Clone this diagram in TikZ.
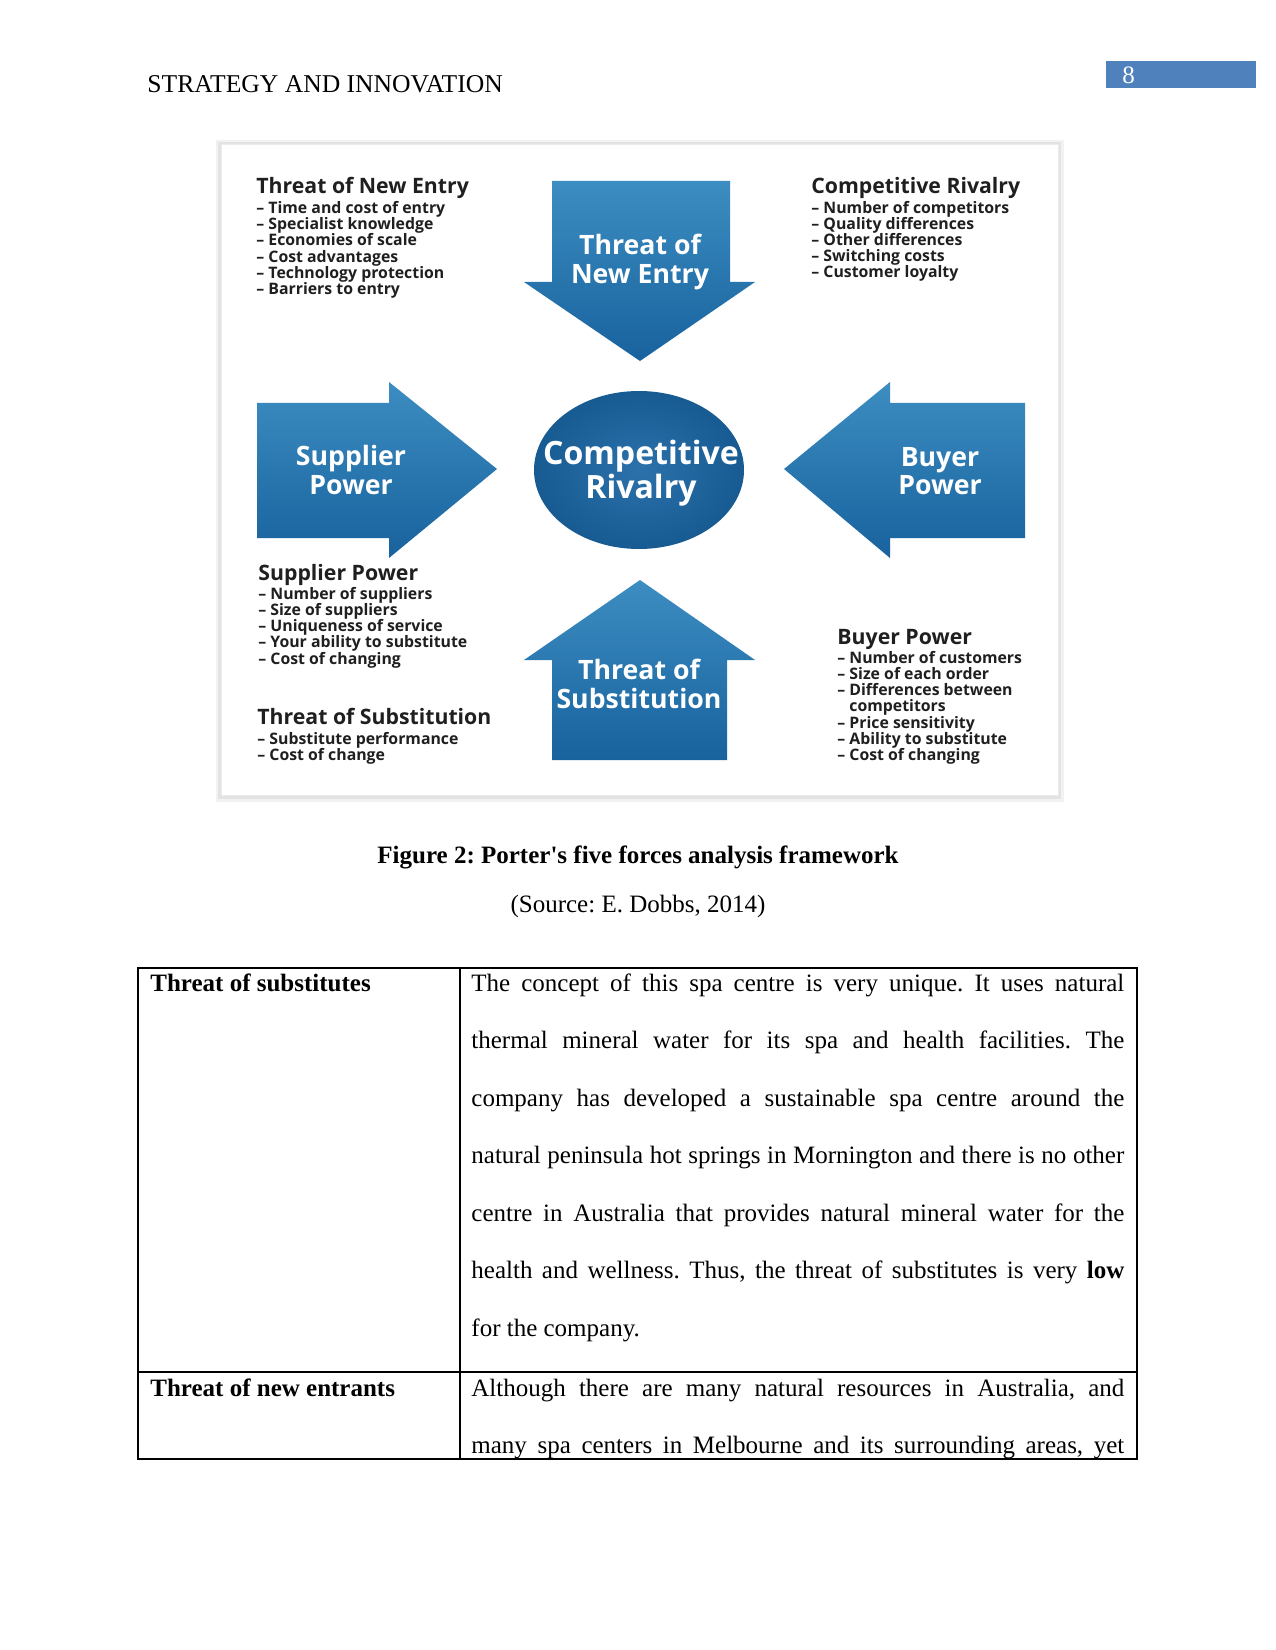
\documentclass[tikz,border=0pt]{standalone}
\usepackage{fontspec}
\setmainfont{Liberation Serif}[Ligatures=TeXOff]
\newfontfamily\figfont{Open Sans}
\usetikzlibrary{positioning}
\frenchspacing
\definecolor{forcetop}{RGB}{60,141,193}
\definecolor{forcebot}{RGB}{24,98,158}
\definecolor{rivalblue}{RGB}{26,101,163}
\definecolor{headblue}{RGB}{79,129,189}
\tikzset{
    force/.style={top color=forcetop, bottom color=forcebot, draw=none},
    forcename/.style={text=white, align=center, inner sep=0pt,
        font=\figfont\bfseries\fontsize{12.8}{13.6}\selectfont},
    listhead/.style={anchor=base west, inner sep=0pt, text=black!88,
        font=\figfont\bfseries\fontsize{10.2}{11}\selectfont},
    listitem/.style={anchor=base west, inner sep=0pt, text=black!88,
        font=\figfont\bfseries\fontsize{7.6}{8}\selectfont},
    pagetext/.style={anchor=base west, inner sep=0pt, font=\fontsize{12}{14}\selectfont},
}
\begin{document}
\begin{tikzpicture}[x=0.48pt, y=-0.48pt]
    \useasboundingbox (0,0) rectangle (1275,1650);
    % Running head
    \node[pagetext, font=\fontsize{12.3}{14}\selectfont] (runhead) at (147,93) {STRATEGY AND INNOVATION};
    \fill[headblue] (1106,61) rectangle (1256,88);
    \node[pagetext, text=white] (pagenum) at (1122,84) {8};
    % Figure frame with soft shadow
    \fill[black!5] (216,140) rectangle (1064,802);
    \fill[black!11] (218,142) rectangle (1061,799);
    \filldraw[fill=white, draw=black!8] (221,144) rectangle (1058,795);
    % Forces
    \shade[force] (552,181) -- (730,181) -- (730,282) -- (755,282) -- (640,361)
        -- (524,282) -- (552,282) -- cycle;
    \shade[force] (552,760) -- (727,760) -- (727,660) -- (755,660) -- (640,580)
        -- (524,660) -- (552,660) -- cycle;
    \shade[force] (257,403) -- (389,403) -- (389,382) -- (497,469) -- (389,558)
        -- (389,538) -- (257,538) -- cycle;
    \shade[force] (1025,403) -- (890,403) -- (890,382) -- (784,469) -- (890,558)
        -- (890,538) -- (1025,538) -- cycle;
    \shade[inner color=rivalblue!92!white, outer color=rivalblue!90!black]
        (639,470) ellipse [x radius=105, y radius=79];
    \node[forcename] (newentry) at (640,262) {Threat of\\New Entry};
    \node[forcename] (supplier) at (351,470) {Supplier\\Power};
    \node[forcename] (buyer) at (940,471) {Buyer\\Power};
    \node[forcename] (substitution) at (639,684) {Threat of\\Substitution};
    \node[forcename, font=\figfont\bfseries\fontsize{15.4}{16.4}\selectfont]
        (rivalry) at (641,473) {Competitive\\Rivalry};
    % Lists of factors
    \node[listhead] (entryhead) at (256,194) {Threat of New Entry};
    \foreach \t [count=\i] in {Time and cost of entry, Specialist knowledge,
        Economies of scale, Cost advantages, Technology protection, Barriers to entry}
        \node[listitem] at (256,197.4+16.2*\i) {– \t};
    \node[listhead] (rivalhead) at (811,194) {Competitive Rivalry};
    \foreach \t [count=\i] in {Number of competitors, Quality differences,
        Other differences, Switching costs, Customer loyalty}
        \node[listitem] at (811,197+16.2*\i) {– \t};
    \node[listhead] (supplyhead) at (258,580) {Supplier Power};
    \foreach \t [count=\i] in {Number of suppliers, Size of suppliers,
        Uniqueness of service, Your ability to substitute, Cost of changing}
        \node[listitem] at (258,583+16.2*\i) {– \t};
    \node[listhead] (substhead) at (257,724) {Threat of Substitution};
    \foreach \t [count=\i] in {Substitute performance, Cost of change}
        \node[listitem] at (257,728+16.2*\i) {– \t};
    \node[listhead] (buyhead) at (837,644) {Buyer Power};
    \foreach \t [count=\i] in {– Number of customers, – Size of each order,
        – Differences between, \phantom{– }competitors, – Price sensitivity,
        – Ability to substitute, – Cost of changing}
        \node[listitem] at (837,647+16.2*\i) {\t};
    % Caption
    \node[pagetext, anchor=base, font=\bfseries\fontsize{12}{14}\selectfont] (caption)
        at (638,863) {Figure 2: Porter's five forces analysis framework};
    \node[pagetext, anchor=base] (source) at (638,912) {(Source: E. Dobbs, 2014)};
    % Table
    \draw[line width=0.6pt] (138,968) rectangle (1137,1459);
    \draw[line width=0.6pt] (460,968) -- (460,1459);
    \draw[line width=0.6pt] (138,1372) -- (1137,1372);
    \node[pagetext, font=\bfseries\fontsize{12}{14}\selectfont] (subsrow) at (150,991) {Threat of substitutes};
    \node[pagetext, font=\bfseries\fontsize{12}{14}\selectfont] (entrantrow) at (150,1396) {Threat of new entrants};
    \foreach \t [count=\i] in {{The concept of this spa centre is very unique. It uses natural},
        {thermal mineral water for its spa and health facilities. The},
        {company has developed a sustainable spa centre around the},
        {natural peninsula hot springs in Mornington and there is no other},
        {centre in Australia that provides natural mineral water for the},
        {health and wellness. Thus, the threat of substitutes is very \textbf{low}}}
        \node[pagetext] at (471,933.5+57.5*\i) {\makebox[313.4pt][s]{\t}};
    \node[pagetext] (subsend) at (471,1336) {for the company.};
    \foreach \t [count=\i] in {{Although there are many natural resources in Australia, and},
        {many spa centers in Melbourne and its surrounding areas, yet}}
        \node[pagetext] at (471,1338.5+57.5*\i) {\makebox[313.4pt][s]{\t}};
\end{tikzpicture}
\end{document}
